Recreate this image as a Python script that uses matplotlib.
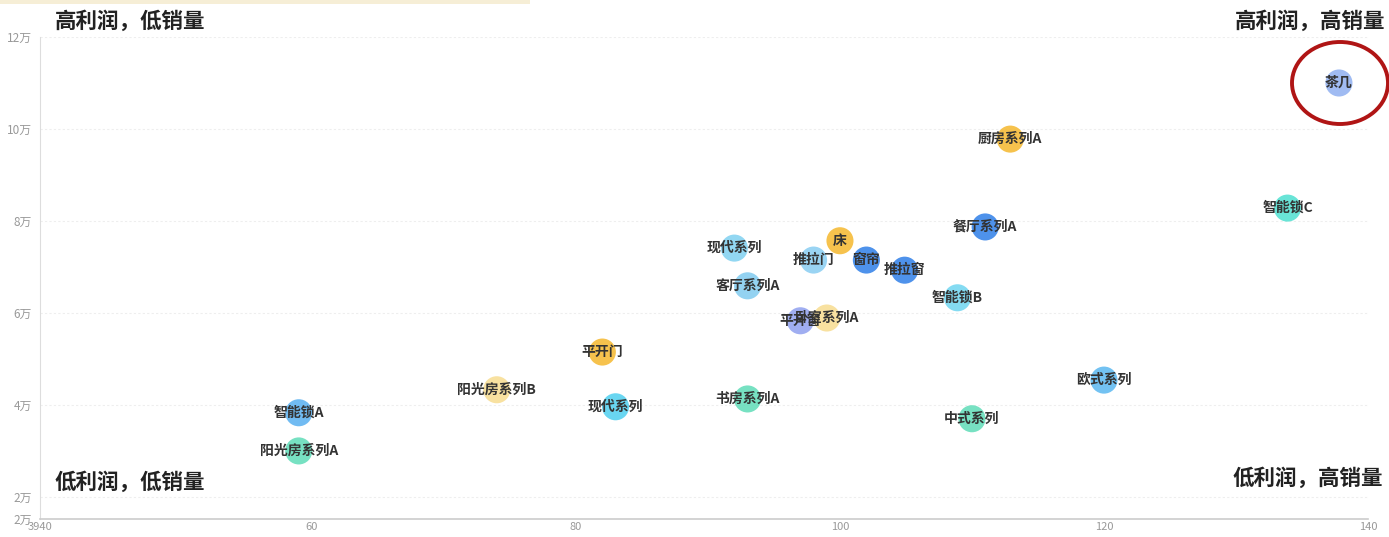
import matplotlib
matplotlib.use("Agg")
import matplotlib.pyplot as plt
import matplotlib.patches as mpatches

plt.rcParams['font.family'] = ['Noto Sans CJK SC', 'DejaVu Sans']

# Data: x = 销量, y = 利润
names = ["茶几", "厨房系列A", "智能锁C", "餐厅系列A", "床", "现代系列", "推拉门", "窗帘",
         "推拉窗", "客厅系列A", "智能锁B", "平开窗", "卧室系列A", "平开门", "欧式系列",
         "阳光房系列B", "书房系列A", "现代系列", "智能锁A", "中式系列", "阳光房系列A"]
sales = [137.8, 112.9, 133.9, 111.0, 100.0, 92.0, 98.0, 102.0,
         104.9, 93.0, 108.9, 97.0, 99.0, 82.0, 120.0,
         74.0, 93.0, 83.0, 59.0, 110.0, 59.0]
profit = [110000, 97800, 82800, 78700, 75700, 74100, 71500, 71500,
          69300, 65900, 63300, 58300, 58900, 51500, 45400,
          43300, 41300, 39600, 38300, 37000, 30000]

x_ticks = [39.4, 60, 80, 100, 120, 140]
x_tick_labels = ["3940", "60", "80", "100", "120", "140"]
y_ticks = [15200, 20000, 40000, 60000, 80000, 100000, 120000]
y_tick_labels = ["2万", "2万", "4万", "6万", "8万", "10万", "12万"]

colors = ["#8fb0f0", "#f5b82e", "#4fe0d0", "#2f7fe8", "#f5b82e", "#7fd0f0", "#88cdf2", "#2f7fe8",
          "#2f7fe8", "#80cbef", "#6fd5f0", "#8fa0ef", "#f7dc90", "#f5b82e", "#5ab8f0",
          "#f7dc90", "#5fdcb8", "#4fcfef", "#58b0f0", "#5fdcb8", "#5fdcb8"]

fig = plt.figure(figsize=(13.89, 5.37), dpi=100)
ax = fig.add_axes([40 / 1389, 1 - 519 / 537, 1328 / 1389, 482 / 537])

ax.scatter(sales, profit, s=380, c=colors, alpha=0.85, edgecolors="none", zorder=3)
for n, x, y in zip(names, sales, profit):
    ax.text(x, y, n, ha="center", va="center", fontsize=10, fontweight="bold",
            color="#333333", zorder=4)

ax.set_xlim(39.4, 140)
ax.set_ylim(15200, 120000)
ax.set_xticks(x_ticks)
ax.set_xticklabels(x_tick_labels)
ax.set_yticks(y_ticks)
ax.set_yticklabels(y_tick_labels)
ax.tick_params(axis="y", length=0, labelsize=8.5, labelcolor="#999999", pad=6)
ax.tick_params(axis="x", length=0, labelsize=8, labelcolor="#999999", pad=2)

for s in ["top", "right"]:
    ax.spines[s].set_visible(False)
ax.spines["left"].set_color("#dddddd")
ax.spines["bottom"].set_color("#cccccc")
ax.spines["bottom"].set_linewidth(1.2)
ax.grid(axis="y", color="#eeeeee", linestyle=(0, (2, 2)), linewidth=0.8)
ax.set_axisbelow(True)

# Quadrant captions
cap = dict(fontsize=15.5, fontweight="bold", color="#222222")
fig.text(55 / 1389, 1 - 21 / 537, "高利润，低销量", ha="left", va="center", **cap)
fig.text(1385 / 1389, 1 - 21 / 537, "高利润，高销量", ha="right", va="center", **cap)
fig.text(55 / 1389, 1 - 482 / 537, "低利润，低销量", ha="left", va="center", **cap)
fig.text(1383 / 1389, 1 - 478 / 537, "低利润，高销量", ha="right", va="center", **cap)

# Red highlight ring around 茶几
ring = mpatches.Ellipse((1340 / 1389, 1 - 83 / 537), 96 / 1389, 82 / 537,
                        transform=fig.transFigure, fill=False,
                        edgecolor="#b01515", linewidth=2.8)
fig.add_artist(ring)

# faint band at the top-left edge
fig.add_artist(mpatches.Rectangle((0, 1 - 4 / 537), 530 / 1389, 4 / 537,
                                  transform=fig.transFigure, color="#f6eed6", lw=0))

fig.savefig("out.png", dpi=100, facecolor="white")
